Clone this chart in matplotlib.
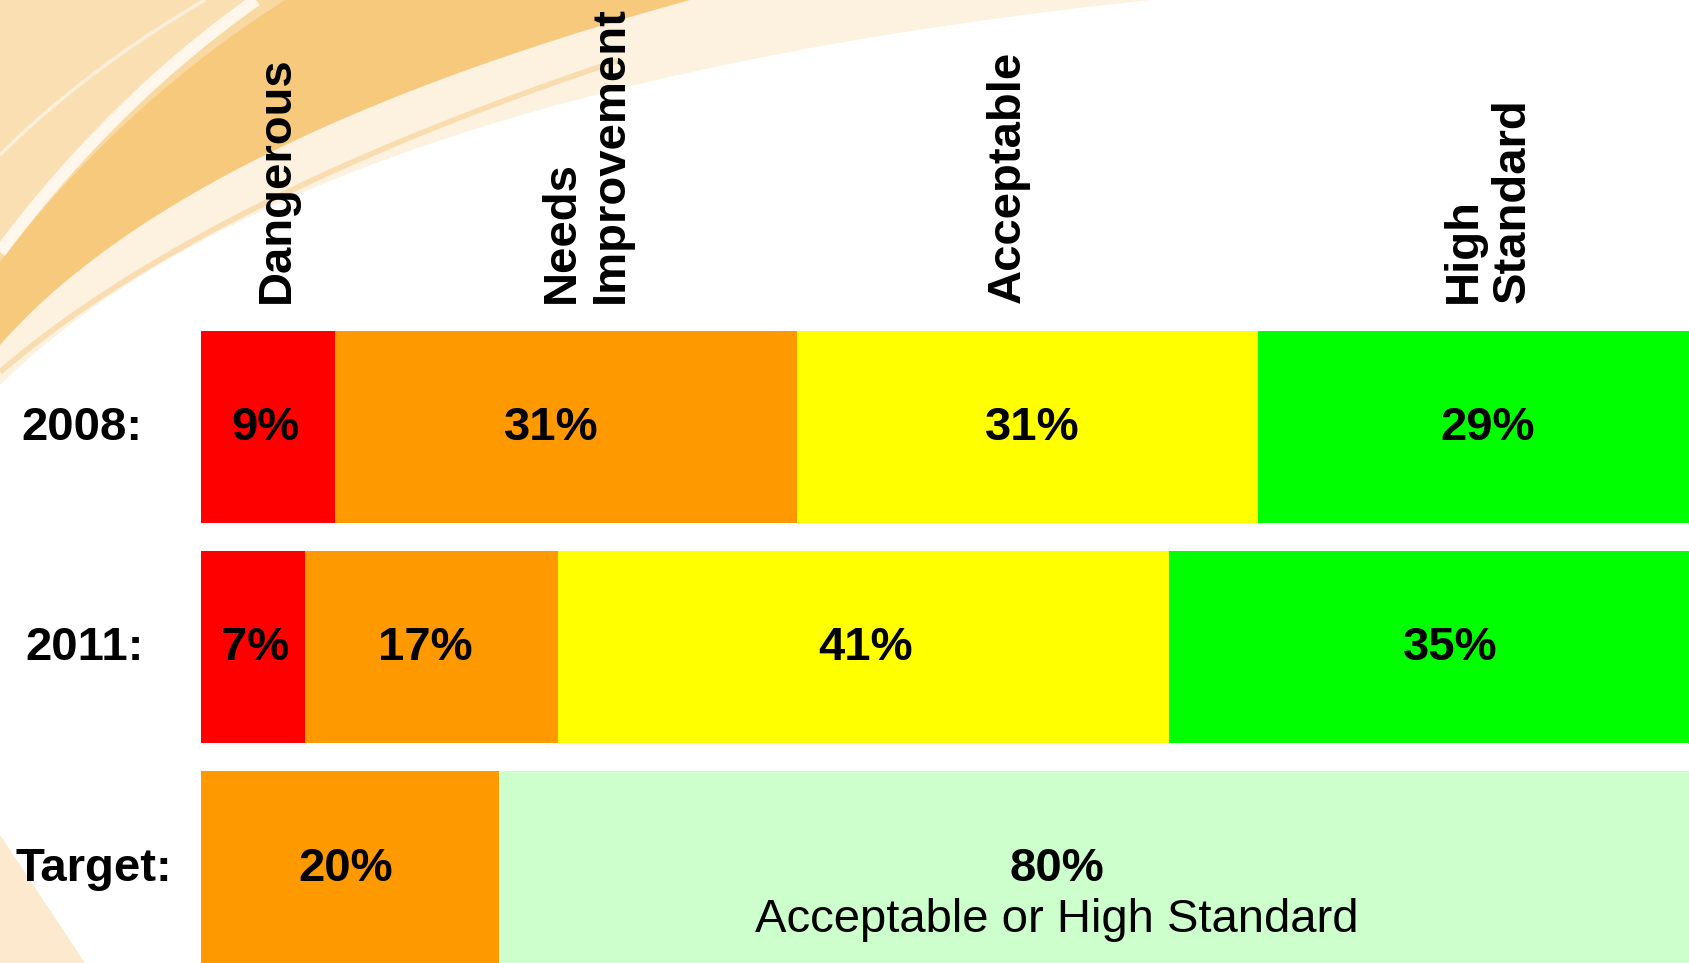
import numpy as np
import matplotlib.pyplot as plt
from matplotlib.patches import Polygon

plt.rcParams['font.family'] = ['Liberation Sans', 'DejaVu Sans']

# data
rows = ['2008:', '2011:', 'Target:']
categories = ['Dangerous', 'Needs\nImprovement', 'Acceptable', 'High\nStandard']
vals_2008 = [9, 31, 31, 29]
vals_2011 = [7, 17, 41, 35]
target_vals = [20, 80]
target_note = 'Acceptable or High Standard'

colors = ['#FF0000', '#FF9900', '#FFFF00', '#00FF00']
target_colors = ['#FF9900', '#CCFFCC']

# small nudges of the value labels (x units), as placed on the slide
nudge = [[-0.2, -1.0, 0.35, 0.9],
         [0.15, -0.45, 0.1, 1.4],
         [-0.25, -2.5]]

W, H = 1689, 963
fig = plt.figure(figsize=(W / 100, H / 100), dpi=100)
fig.patch.set_facecolor('white')


def to_fig(pts):
    pts = np.asarray(pts, dtype=float)
    return np.column_stack([pts[:, 0] / W, 1 - pts[:, 1] / H])


def bezier(p0, p1, p2, n=80):
    t = np.linspace(0, 1, n)[:, None]
    return (1 - t) ** 2 * np.array(p0) + 2 * t * (1 - t) * np.array(p1) + t ** 2 * np.array(p2)


def corner_fill(p0, p1, p2, color):
    pts = np.vstack([bezier(p0, p1, p2), [[0, 0]]])
    fig.add_artist(Polygon(to_fig(pts), closed=True, facecolor=color,
                           edgecolor='none', transform=fig.transFigure, zorder=-5))


def streak(p0, p1, p2, color, lw):
    pts = to_fig(bezier(p0, p1, p2))
    fig.add_artist(plt.Line2D(pts[:, 0], pts[:, 1], color=color, lw=lw,
                              transform=fig.transFigure, zorder=-4,
                              solid_capstyle='butt'))


# background swoosh (slide decoration, top-left corner)
corner_fill((0, 385), (300, 90), (1150, 0), '#FDF1DF')
streak((0, 372), (200, 200), (620, 60), '#F9DDB0', 4)
corner_fill((0, 345), (180, 140), (690, 0), '#F7C97C')
corner_fill((0, 262), (120, 105), (285, 0), '#F9D9A2')
corner_fill((0, 250), (110, 100), (250, 0), '#FADFB2')
streak((0, 252), (112, 102), (256, 0), '#FFF7EC', 9)
streak((0, 155), (85, 70), (205, 0), '#FDEFD9', 2.5)
fig.add_artist(Polygon(to_fig([(0, 835), (85, 963), (0, 963)]), closed=True,
                       facecolor='#FCE9CE', edgecolor='none',
                       transform=fig.transFigure, zorder=-5))

# bars
ax = fig.add_axes([201 / W, 0, 1489 / W, 632 / H])
ax.patch.set_alpha(0)
ax.axis('off')
ax.set_xlim(0, 100)
ax.set_ylim(2.436, -0.4336)

bar_h = 0.872
cap_off = 0.062  # half cap height in row units
fs = 34

for i, vals in enumerate([vals_2008, vals_2011]):
    left = 0
    for k, (v, c) in enumerate(zip(vals, colors)):
        ax.barh(i, v, left=left, height=bar_h, color=c, edgecolor='none')
        ax.text(left + v / 2 + nudge[i][k], i + cap_off, f'{v}%', ha='center',
                va='baseline', fontsize=fs, fontweight='bold')
        left += v

left = 0
for j, (v, c) in enumerate(zip(target_vals, target_colors)):
    ax.barh(2, v, left=left, height=bar_h, color=c, edgecolor='none')
    cx = left + v / 2 + nudge[2][j]
    ax.text(cx, 2 + cap_off, f'{v}%', ha='center', va='baseline',
            fontsize=fs, fontweight='bold')
    if j == 1:
        ax.text(cx, 2 + cap_off + 0.232, target_note, ha='center', va='baseline',
                fontsize=fs)
    left += v

# row labels
row_x = [82, 85, 94]
for i, (lab, x) in enumerate(zip(rows, row_x)):
    ax.text((x - 201) / 14.89, i + cap_off, lab, ha='center', va='baseline',
            fontsize=fs, fontweight='bold', clip_on=False)

# category labels (rotated, above the bars)
cat_x = [277, 586, 1008, 1488]
for lab, x in zip(categories, cat_x):
    fig.text(x / W, 1 - 303 / H, lab, rotation=90, ha='center', va='bottom',
             multialignment='left', fontsize=fs, fontweight='bold',
             linespacing=1.15)

fig.savefig('out.png', dpi=100)
